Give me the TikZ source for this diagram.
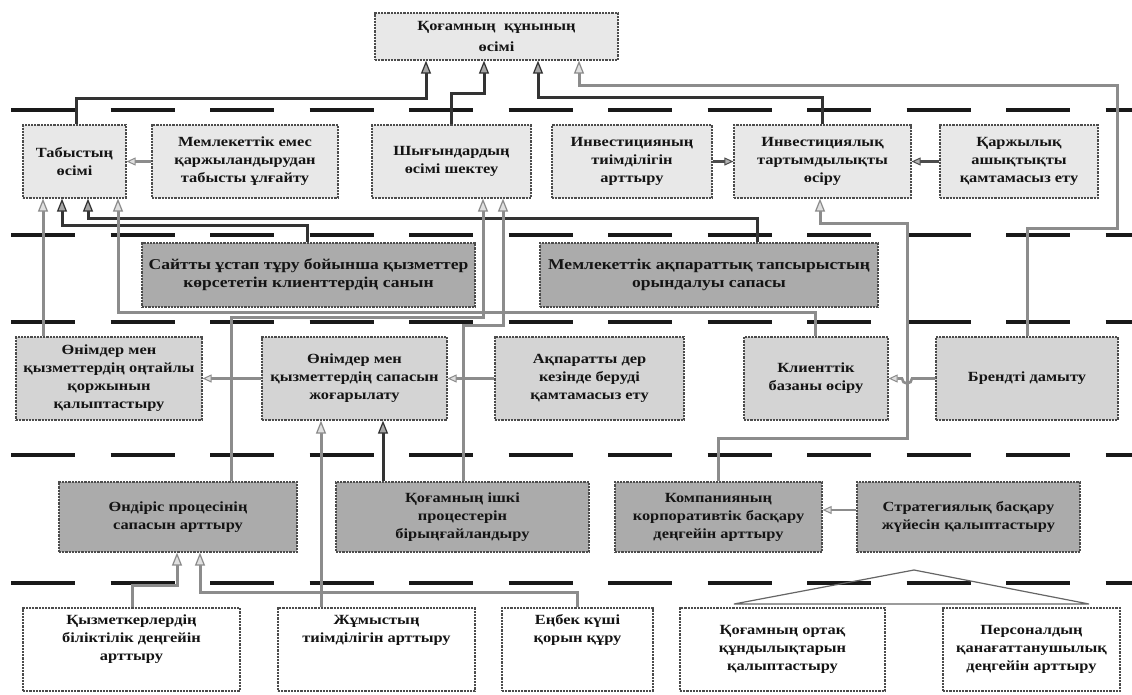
\documentclass[tikz,border=0pt]{standalone}
\usepackage{fontspec}
\setmainfont{Liberation Serif}[FakeStretch=1.17]
\usetikzlibrary{arrows.meta}
\begin{document}
\begin{tikzpicture}[x=1pt,y=-1pt,
  bxbase/.style={draw=black!70, line width=1.2pt, dash pattern=on 2.2pt off 1pt,
    align=center, font=\fontsize{14}{18}\selectfont\bfseries, text=black!92, inner sep=1pt},
  bxlite/.style={bxbase, fill=black!9},
  bxdark/.style={bxbase, fill=black!33},
  bxgrid/.style={bxbase, fill=black!17},
  bxwhite/.style={bxbase, fill=white},
  bigtxt/.style={font=\fontsize{15}{18}\selectfont\bfseries},
  toplbl/.style={align=center, font=\fontsize{14}{18}\selectfont\bfseries, text=black!92, anchor=north, yshift=-4pt},
  sepline/.style={line width=3.5pt, black!90, dash pattern=on 64pt off 35.5pt},
  dk/.style={draw=black!80, line width=3pt, -{Triangle[length=13pt,width=10pt,line width=1.2pt,fill=black!35]}},
  gr/.style={draw=black!45, line width=3pt, -{Triangle[length=13pt,width=10pt,line width=1.2pt,fill=black!12]}},
  dks/.style={draw=black!70, line width=2.6pt, -{Triangle[length=9pt,width=8pt,line width=1pt,fill=black!30]}},
  grs/.style={draw=black!45, line width=2.6pt, -{Triangle[length=9pt,width=8pt,line width=1pt,fill=black!12]}},
  roofline/.style={draw=black!60, line width=1.2pt}
]
\fill[white] (0,0) rectangle (1132,694);
\useasboundingbox (0,0) rectangle (1132,694);

% separators
\foreach \yy in {110,235,322,455,583} \draw[sepline] (11,\yy) -- (1132,\yy);

% top
\node[bxlite, minimum width=243, minimum height=47] (top) at (496.5,36.5) {Қоғамның\ \ құнының\\[3pt]өсімі};
% row 1
\node[bxlite, minimum width=103, minimum height=73] (tab) at (74.5,161.5) {Табыстың\\өсімі};
\node[bxlite, minimum width=186, minimum height=73] (memem) at (245,161.5) {Мемлекеттік емес\\қаржыландырудан\\табысты ұлғайту};
\node[bxlite, minimum width=159, minimum height=73] (shyg) at (451.5,161.5) {Шығындардың\\өсімі шектеу};
\node[bxlite, minimum width=160, minimum height=73] (invt) at (632,161.5) {Инвестицияның\\тиімділігін\\арттыру};
\node[bxlite, minimum width=177, minimum height=73] (invk) at (822.5,161.5) {Инвестициялық\\тартымдылықты\\өсіру};
\node[bxlite, minimum width=158, minimum height=73] (karzh) at (1019,161.5) {Қаржылық\\ашықтықты\\қамтамасыз ету};
% row 2
\node[bxdark, bigtxt, minimum width=333, minimum height=64] (sait) at (308.5,275) {Сайтты ұстап тұру бойынша қызметтер\\көрсететін клиенттердің санын};
\node[bxdark, bigtxt, minimum width=338, minimum height=64] (memak) at (709,275) {Мемлекеттік ақпараттық тапсырыстың\\орындалуы сапасы};
% row 3
\node[bxgrid, minimum width=186, minimum height=83] (ontai) at (109,378.5) {Өнімдер мен\\қызметтердің оңтайлы\\қоржынын\\қалыптастыру};
\node[bxgrid, minimum width=185, minimum height=83] (sapa) at (354.5,378.5) {Өнімдер мен\\қызметтердің сапасын\\жоғарылату};
\node[bxgrid, minimum width=189, minimum height=83] (akpar) at (589.5,378.5) {Ақпаратты дер\\кезінде беруді\\қамтамасыз ету};
\node[bxgrid, minimum width=144, minimum height=83] (klient) at (816,378.5) {Клиенттік\\базаны өсіру};
\node[bxgrid, minimum width=182, minimum height=83] (brend) at (1027,378.5) {Брендті дамыту};
% row 4
\node[bxdark, minimum width=238, minimum height=70] (ondiris) at (178,517) {Өндіріс процесінің\\сапасын арттыру};
\node[bxdark, minimum width=253, minimum height=70] (ishki) at (462.5,517) {Қоғамның ішкі\\процестерін\\бірыңғайландыру};
\node[bxdark, minimum width=207, minimum height=70] (komp) at (718.5,517) {Компанияның\\корпоративтік басқару\\деңгейін арттыру};
\node[bxdark, minimum width=223, minimum height=70] (strat) at (968.5,517) {Стратегиялық басқару\\жүйесін қалыптастыру};
% row 5
\node[bxwhite, minimum width=217, minimum height=83, label={[toplbl]north:{Қызметкерлердің\\біліктілік деңгейін\\арттыру}}] (kyzm) at (131.5,649.5) {};
\node[bxwhite, minimum width=197, minimum height=83, label={[toplbl]north:{Жұмыстың\\тиімділігін арттыру}}] (zhum) at (376.5,649.5) {};
\node[bxwhite, minimum width=151, minimum height=83, label={[toplbl]north:{Еңбек күші\\қорын құру}}] (enbek) at (577.5,649.5) {};
\node[bxwhite, minimum width=205, minimum height=83] (ortak) at (782.5,649.5) {Қоғамның ортақ\\құндылықтарын\\қалыптастыру};
\node[bxwhite, minimum width=177, minimum height=83] (pers) at (1031.5,649.5) {Персоналдың\\қанағаттанушылық\\деңгейін арттыру};

% roof over the two right boxes
\coordinate (roofL) at (734,604);
\coordinate (roofA) at (914,570);
\coordinate (roofR) at (1089,604);
\draw[roofline] (roofL) -- (roofA) -- (roofR) -- cycle;

% dark connectors
\draw[dk] (76,0 |- tab.north) -- (76,98) -- (426,98) -- (426,0 |- top.south);
\draw[dk] (451,0 |- shyg.north) -- (451,93) -- (484,93) -- (484,0 |- top.south);
\draw[dk] (822,0 |- invk.north) -- (822,97) -- (538,97) -- (538,0 |- top.south);
\draw[dks] (invt.east) -- (invk.west);
\draw[dks] (karzh.west) -- (invk.east);
\draw[dk] (307,0 |- sait.north) -- (307,225) -- (62,225) -- (62,0 |- tab.south);
\draw[dk] (757,0 |- memak.north) -- (757,218) -- (88,218) -- (88,0 |- tab.south);
\draw[dk] (383,0 |- ishki.north) -- (383,0 |- sapa.south);

% gray connectors
\draw[grs] (memem.west) -- (tab.east);
\draw[gr] (43,0 |- ontai.north) -- (43,0 |- tab.south);
\draw[gr] (815,0 |- klient.north) -- (815,312) -- (118,312) -- (118,0 |- tab.south);
\draw[gr] (231,0 |- ondiris.north) -- (231,317) -- (483,317) -- (483,0 |- shyg.south);
\draw[gr] (463,0 |- ishki.north) -- (463,325) -- (503,325) -- (503,0 |- shyg.south);
\draw[gr] (1027,0 |- brend.north) -- (1027,228) -- (1117,228) -- (1117,85) -- (579,85) -- (579,0 |- top.south);
\draw[gr] (718,0 |- komp.north) -- (718,438) -- (907,438) -- (907,223) -- (820,223) -- (820,0 |- invk.south);
\draw[grs] (sapa.west) -- (ontai.east);
\draw[grs] (akpar.west) -- (sapa.east);
\draw[grs] (brend.west) -- (912,378.5) arc[start angle=0,end angle=180,radius=5] -- (klient.east);
\draw[grs] (strat.west |- 0,510) -- (komp.east |- 0,510);
\draw[gr] (321,0 |- zhum.north) -- (321,0 |- sapa.south);
\draw[gr] (132,0 |- kyzm.north) -- (132,585) -- (177,585) -- (177,0 |- ondiris.south);
\draw[gr] (577,0 |- enbek.north) -- (577,592) -- (200,592) -- (200,0 |- ondiris.south);
\end{tikzpicture}
\end{document}
